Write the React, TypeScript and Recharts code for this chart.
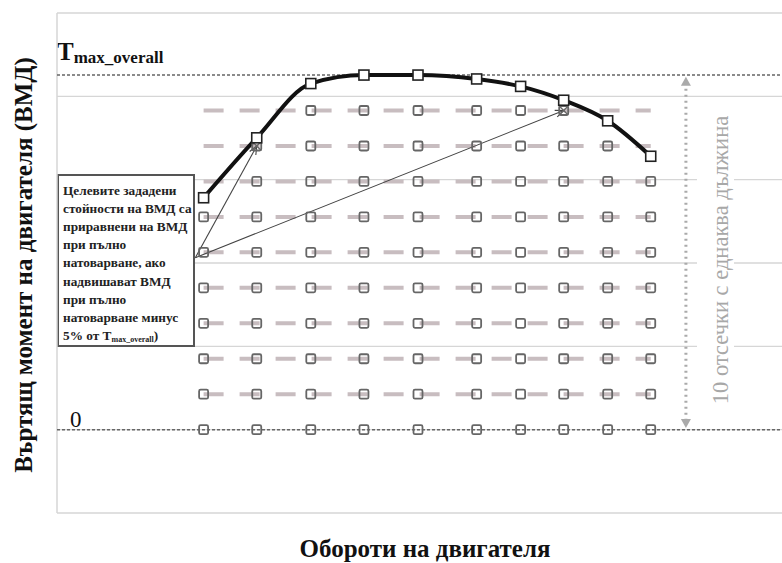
import React from "react";
import {
  LineChart,
  Line,
  XAxis,
  YAxis,
  CartesianGrid,
  ReferenceLine,
} from "recharts";

// engine speed points (rpm) and full-load torque in % of T_max_overall
const speeds = [800, 1090, 1385, 1675, 1970, 2290, 2530, 2765, 3005, 3240];
const fullLoad = [65.4, 82.3, 97.6, 100, 100, 98.9, 96.8, 92.9, 87.1, 77.1];
const levels = [0, 10, 20, 30, 40, 50, 60, 70, 80, 90];
const tMax = 100;
const tolerance = 5;
const gridTicks = [-23.5, 0, 23.5, 47, 70.5, 94, 117.5];

const serif = "'Liberation Serif', 'Times New Roman', serif";
const rowColor = "#c8bdc0";
const markerColor = "#666";

const table = speeds.map((speed, i) => {
  const row: Record<string, number> = { speed, full: fullLoad[i] };
  levels.forEach((lv) => {
    row[`r${lv}`] = lv;
  });
  return row;
});

const rowDot = (level: number) => (props: any) => {
  const { cx, cy, index } = props;
  const key = `d-${level}-${index}`;
  const full = fullLoad[index];
  if (cx == null || cy == null || level > full) return <g key={key} />;
  const snapped = level > 0 && full - level < tolerance;
  const s = 4.5;
  return (
    <g key={key}>
      <rect
        x={cx - s}
        y={cy - s}
        width={s * 2}
        height={s * 2}
        rx={1.5}
        fill="none"
        stroke={markerColor}
        strokeWidth={1.8}
      />
      {snapped && (
        <path
          d={`M${cx - s},${cy - s}L${cx + s},${cy + s}M${cx + s},${cy - s}L${cx - s},${cy + s}`}
          stroke={markerColor}
          strokeWidth={1.3}
        />
      )}
    </g>
  );
};

const fullDot = (props: any) => {
  const { cx, cy, index } = props;
  const s = 5;
  return (
    <rect
      key={`f-${index}`}
      x={cx - s}
      y={cy - s}
      width={s * 2}
      height={s * 2}
      fill="#fff"
      stroke="#222"
      strokeWidth={1.6}
    />
  );
};

const head = (x1: number, y1: number, x2: number, y2: number, len = 9) => {
  const a = Math.atan2(y2 - y1, x2 - x1);
  const p1 = [x2 - len * Math.cos(a - 0.4), y2 - len * Math.sin(a - 0.4)];
  const p2 = [x2 - len * Math.cos(a + 0.4), y2 - len * Math.sin(a + 0.4)];
  return `M${p1[0]},${p1[1]}L${x2},${y2}L${p2[0]},${p2[1]}`;
};

const pointerShape = (props: any) => {
  const { x1, y1, x2, y2 } = props;
  return (
    <g>
      <line x1={x1} y1={y1} x2={x2} y2={y2} stroke="#444" strokeWidth={1.1} />
      <path d={head(x1, y1, x2, y2)} fill="none" stroke="#444" strokeWidth={1.1} />
    </g>
  );
};

const spanShape = (props: any) => {
  const { x1, y1, x2, y2 } = props;
  return (
    <g>
      <line
        x1={x1}
        y1={y1 + 6}
        x2={x2}
        y2={y2 - 6}
        stroke="#aaa"
        strokeWidth={3}
        strokeDasharray="2 4"
      />
      <path d={`M${x1 - 5},${y1 + 9}L${x1},${y1}L${x1 + 5},${y1 + 9}Z`} fill="#aaa" />
      <path d={`M${x2 - 5},${y2 - 9}L${x2},${y2}L${x2 + 5},${y2 - 9}Z`} fill="#aaa" />
    </g>
  );
};

const noteLines = [
  "Целевите зададени",
  "стойности на ВМД са",
  "приравнени на ВМД",
  "при пълно",
  "натоварване, ако",
  "надвишават ВМД",
  "при пълно",
  "натоварване минус",
];

export default function App() {
  return (
    <div
      style={{
        position: "absolute",
        left: 0,
        top: 0,
        width: 782,
        height: 563,
        overflow: "hidden",
        background: "#fff",
      }}
    >
      <LineChart
        width={800}
        height={563}
        data={table}
        margin={{ top: 13, right: 10, bottom: 50, left: 57 }}
      >
        <CartesianGrid
          vertical={false}
          horizontalValues={gridTicks}
          stroke="#d6d6d6"
          strokeWidth={1.3}
        />
        <XAxis type="number" dataKey="speed" domain={[0, 4000]} hide />
        <YAxis type="number" domain={[-23.5, 117.5]} hide />
        <ReferenceLine x={0} stroke="#d6d6d6" strokeWidth={1.5} />

        <rect x={697} y={106} width={37} height={310} fill="#fff" />
        <text
          x={0}
          y={0}
          transform="translate(728,260) rotate(-90)"
          textAnchor="middle"
          fontFamily={serif}
          fontSize={22.5}
          fill="#a8a8a8"
        >
          10 отсечки с еднаква дължина
        </text>

        <ReferenceLine y={tMax} stroke="#666" strokeWidth={1.5} strokeDasharray="3 2" />
        <ReferenceLine y={0} stroke="#666" strokeWidth={1.5} strokeDasharray="3 2" />

        {levels.map((lv) => (
          <Line
            key={lv}
            dataKey={`r${lv}`}
            stroke={lv === 0 ? "none" : rowColor}
            strokeWidth={4}
            strokeDasharray="20 16"
            dot={rowDot(lv)}
            activeDot={false}
            isAnimationActive={false}
          />
        ))}
        <Line
          dataKey="full"
          type="monotone"
          stroke="#111"
          strokeWidth={4}
          dot={fullDot}
          activeDot={false}
          isAnimationActive={false}
        />

        <ReferenceLine
          segment={[
            { x: 3432, y: 99.5 },
            { x: 3432, y: 0.5 },
          ]}
          shape={spanShape}
        />

        <rect x={58} y={175} width={136} height={171} fill="#fff" stroke="#555" strokeWidth={2} />
        <text fontFamily={serif} fontSize={13.3} fontWeight="bold" fill="#222">
          {noteLines.map((t, i) => (
            <tspan key={i} x={63} y={195 + i * 18.1}>
              {t}
            </tspan>
          ))}
          <tspan x={63} y={195 + 8 * 18.1}>
            5% от T
          </tspan>
          <tspan fontSize={8} dy={2}>
            max_overall
          </tspan>
          <tspan dy={-2}>)</tspan>
        </text>

        <ReferenceLine
          segment={[
            { x: 755, y: 48.5 },
            { x: speeds[1], y: 80 },
          ]}
          shape={pointerShape}
        />
        <ReferenceLine
          segment={[
            { x: 755, y: 48.5 },
            { x: speeds[7], y: 90 },
          ]}
          shape={pointerShape}
        />

        <text x={57} y={60} fontFamily={serif} fill="#111" fontWeight="bold">
          <tspan fontSize={25}>T</tspan>
          <tspan fontSize={17} dy={3}>
            max_overall
          </tspan>
        </text>
        <text x={70} y={427} fontFamily={serif} fontSize={23} fill="#111">
          0
        </text>
        <text
          x={0}
          y={0}
          transform="translate(32,265) rotate(-90)"
          textAnchor="middle"
          fontFamily={serif}
          fontSize={25}
          fontWeight="bold"
          fill="#111"
        >
          Въртящ момент на двигателя (ВМД)
        </text>
        <text
          x={425}
          y={557}
          textAnchor="middle"
          fontFamily={serif}
          fontSize={25}
          fontWeight="bold"
          fill="#111"
        >
          Обороти на двигателя
        </text>
      </LineChart>
    </div>
  );
}
